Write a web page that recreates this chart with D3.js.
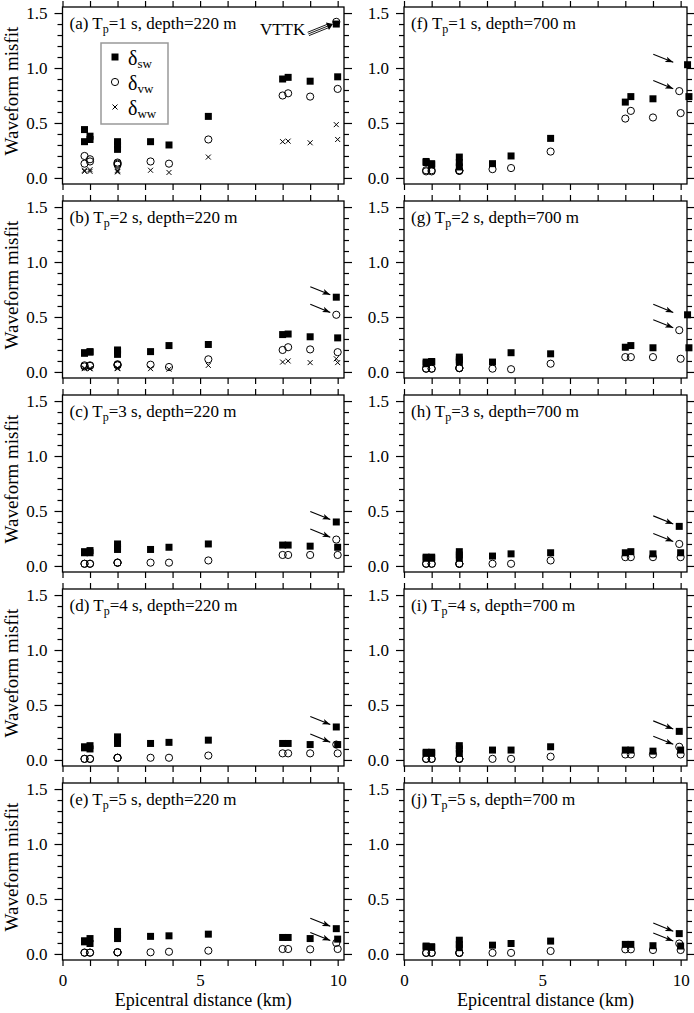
<!DOCTYPE html>
<html>
<head>
<meta charset="utf-8">
<script src="https://cdn.jsdelivr.net/npm/d3@7.9.0/dist/d3.min.js"></script>
<style>
  body { margin: 0; background: #fff; }
  svg { display: block; font-family: "Liberation Serif", "Times New Roman", serif; }
</style>
</head>
<body>
<svg id="chart" width="694" height="1013"></svg>
<script>
/* ---------- Data ---------- */
// epicentral distance of each station (km); index 13 is VTTK
const distances = [0.8, 0.8, 1.0, 1.0, 2.0, 2.0, 2.0, 3.2, 3.87, 5.3, 8.0, 8.2, 9.0, 9.95, 10.0];
const vttkIndex = 13;
// the two 10-km squares sit a little to the right in (f) and (g)
const swDistShifted = [0.8, 0.8, 1.0, 1.0, 2.0, 2.0, 2.0, 3.2, 3.87, 5.3, 8.0, 8.2, 9.0, 10.25, 10.3];

const panelLetters = ['a', 'b', 'c', 'd', 'e', 'f', 'g', 'h', 'i', 'j'];
const periods = [1, 2, 3, 4, 5, 1, 2, 3, 4, 5];
const depths = [220, 220, 220, 220, 220, 700, 700, 700, 700, 700];

// delta_sw (filled squares)
const swA = [0.44, 0.33, 0.38, 0.35, 0.33, 0.30, 0.26, 0.33, 0.30, 0.56, 0.90, 0.915, 0.88, 1.40, 0.92];
const swB = [0.175, 0.17, 0.185, 0.18, 0.20, 0.19, 0.16, 0.185, 0.24, 0.25, 0.34, 0.345, 0.32, 0.68, 0.31];
const swC = [0.13, 0.12, 0.14, 0.12, 0.20, 0.17, 0.15, 0.15, 0.17, 0.20, 0.19, 0.19, 0.18, 0.40, 0.17];
const swD = [0.12, 0.11, 0.13, 0.10, 0.21, 0.18, 0.15, 0.15, 0.16, 0.18, 0.15, 0.15, 0.14, 0.30, 0.14];
const swE = [0.12, 0.11, 0.14, 0.095, 0.205, 0.175, 0.14, 0.16, 0.165, 0.18, 0.15, 0.15, 0.14, 0.23, 0.135];
const swF = [0.15, 0.14, 0.12, 0.13, 0.19, 0.14, 0.10, 0.13, 0.20, 0.36, 0.69, 0.74, 0.72, 1.03, 0.74];
const swG = [0.09, 0.075, 0.095, 0.09, 0.135, 0.11, 0.09, 0.09, 0.175, 0.165, 0.225, 0.24, 0.22, 0.52, 0.22];
const swH = [0.08, 0.07, 0.08, 0.07, 0.13, 0.10, 0.07, 0.09, 0.11, 0.12, 0.12, 0.13, 0.11, 0.36, 0.12];
const swI = [0.07, 0.06, 0.07, 0.06, 0.13, 0.10, 0.06, 0.09, 0.09, 0.12, 0.09, 0.09, 0.08, 0.26, 0.09];
const swJ = [0.072, 0.065, 0.066, 0.06, 0.125, 0.087, 0.057, 0.08, 0.095, 0.117, 0.087, 0.087, 0.075, 0.185, 0.072];

// delta_vw (open circles)
const vwA = [0.20, 0.13, 0.17, 0.15, 0.14, 0.12, 0.13, 0.15, 0.13, 0.35, 0.75, 0.77, 0.74, 1.42, 0.81];
const vwB = [0.06, 0.05, 0.06, 0.055, 0.07, 0.06, 0.065, 0.066, 0.045, 0.115, 0.20, 0.225, 0.205, 0.52, 0.18];
const vwC = [0.02, 0.02, 0.02, 0.02, 0.03, 0.03, 0.03, 0.03, 0.03, 0.05, 0.10, 0.10, 0.10, 0.24, 0.10];
const vwD = [0.01, 0.01, 0.01, 0.01, 0.02, 0.02, 0.02, 0.02, 0.02, 0.04, 0.06, 0.06, 0.06, 0.14, 0.06];
const vwE = [0.012, 0.012, 0.012, 0.012, 0.015, 0.015, 0.015, 0.015, 0.02, 0.03, 0.045, 0.045, 0.042, 0.10, 0.045];
const vwF = [0.07, 0.06, 0.06, 0.07, 0.065, 0.07, 0.065, 0.08, 0.09, 0.24, 0.54, 0.61, 0.55, 0.79, 0.59];
const vwG = [0.03, 0.03, 0.03, 0.03, 0.035, 0.035, 0.035, 0.03, 0.025, 0.075, 0.135, 0.135, 0.135, 0.38, 0.12];
const vwH = [0.02, 0.02, 0.02, 0.02, 0.02, 0.02, 0.02, 0.02, 0.02, 0.05, 0.08, 0.08, 0.08, 0.20, 0.08];
const vwI = [0.01, 0.01, 0.01, 0.01, 0.01, 0.01, 0.01, 0.01, 0.01, 0.03, 0.05, 0.05, 0.05, 0.12, 0.05];
const vwJ = [0.01, 0.01, 0.01, 0.01, 0.01, 0.01, 0.01, 0.01, 0.01, 0.027, 0.042, 0.042, 0.036, 0.095, 0.036];

// delta_ww (crosses) - only visible in (a) and (b)
const wwA = [0.07, 0.06, 0.075, 0.06, 0.055, 0.07, 0.06, 0.07, 0.05, 0.19, 0.33, 0.335, 0.32, 0.485, 0.35];
const wwB = [0.03, 0.035, 0.03, 0.03, 0.035, 0.03, 0.035, 0.03, 0.025, 0.06, 0.09, 0.10, 0.085, 0.12, 0.085];

const swSeries = [swA, swB, swC, swD, swE, swF, swG, swH, swI, swJ];
const vwSeries = [vwA, vwB, vwC, vwD, vwE, vwF, vwG, vwH, vwI, vwJ];
const wwSeries = [wwA, wwB, null, null, null, null, null, null, null, null];

const xTickValues = d3.range(0, 11);
const yMajorTicks = [0, 0.5, 1.0, 1.5];
const yMinorTicks = d3.range(0, 16).map(d => d / 10).filter(d => !yMajorTicks.includes(d));

/* ---------- Layout ---------- */
const svg = d3.select('#chart');
const colX = [[62.5, 344], [404, 687]];
const firstTop = 7, pitch = 194, panelH = 177;
const xDomain = [0, 10.23];
const yDomain = [-0.055, 1.555];

const defs = svg.append('defs');
defs.append('marker')
  .attr('id', 'head')
  .attr('markerUnits', 'userSpaceOnUse')
  .attr('markerWidth', 9).attr('markerHeight', 7)
  .attr('refX', 8).attr('refY', 3.5)
  .attr('orient', 'auto')
  .append('path')
  .attr('d', 'M0,0.6 L8,3.5 L0,6.4 L2,3.5 Z')
  .attr('fill', '#000');

function styleAxis(g) {
  g.attr('font-family', null).attr('font-size', null);
  g.select('.domain').remove();
  g.selectAll('line').attr('stroke-width', 1.2);
  g.selectAll('text').style('font-size', '17px').attr('fill', '#000');
}

function squarePath(size) {
  const h = size / 2;
  return `M${-h},${-h}h${size}v${size}h${-size}z`;
}
function crossPath(size) {
  const h = size / 2;
  return `M${-h},${-h}L${h},${h}M${-h},${h}L${h},${-h}`;
}

/* ---------- Panels ---------- */
panelLetters.forEach((letter, i) => {
  const col = i < 5 ? 0 : 1;
  const row = i % 5;
  const top = firstTop + row * pitch;
  const bottom = top + panelH;
  const [x0, x1] = colX[col];

  const x = d3.scaleLinear().domain(xDomain).range([x0, x1]);
  const y = d3.scaleLinear().domain(yDomain).range([bottom, top]);

  const g = svg.append('g').attr('class', `panel-${letter}`);

  // axes (all ticks outward)
  g.append('g').attr('transform', `translate(${x0},0)`)
    .call(d3.axisLeft(y).tickValues(yMajorTicks).tickSizeInner(8).tickSizeOuter(0)
      .tickPadding(7).tickFormat(d3.format('.1f')))
    .call(styleAxis);
  g.append('g').attr('transform', `translate(${x0},0)`)
    .call(d3.axisLeft(y).tickValues(yMinorTicks).tickSize(5).tickFormat(''))
    .call(styleAxis);
  g.append('g').attr('transform', `translate(${x1},0)`)
    .call(d3.axisRight(y).tickValues(yMajorTicks).tickSize(8).tickFormat(''))
    .call(styleAxis);
  g.append('g').attr('transform', `translate(${x1},0)`)
    .call(d3.axisRight(y).tickValues(yMinorTicks).tickSize(5).tickFormat(''))
    .call(styleAxis);
  g.append('g').attr('transform', `translate(0,${top})`)
    .call(d3.axisTop(x).tickValues(xTickValues).tickSize(6).tickFormat(''))
    .call(styleAxis);
  g.append('g').attr('transform', `translate(0,${bottom})`)
    .call(d3.axisBottom(x).tickValues(xTickValues).tickSize(6).tickPadding(8)
      .tickFormat(d => (row === 4 && d % 5 === 0) ? d3.format('d')(d) : ''))
    .call(styleAxis);

  // frame
  g.append('rect')
    .attr('x', x0).attr('y', top)
    .attr('width', x1 - x0).attr('height', panelH)
    .attr('fill', 'none').attr('stroke', '#000').attr('stroke-width', 1.3);

  // panel label
  const label = g.append('text')
    .attr('x', x0 + 7).attr('y', top + 21.5)
    .style('font-size', '17px');
  label.append('tspan').text(`(${letter}) T`);
  label.append('tspan').attr('dy', 4).style('font-size', '12px').text('p');
  label.append('tspan').attr('dy', -4).text(`=${periods[i]} s, depth=${depths[i]} m`);

  // y title (left column)
  if (col === 0) {
    g.append('text')
      .attr('transform', `translate(18,${top + 84}) rotate(-90)`)
      .attr('text-anchor', 'middle')
      .style('font-size', '19px')
      .text('Waveform misfit');
  }
  // x title (bottom row)
  if (row === 4) {
    g.append('text')
      .attr('x', (x0 + x1) / 2).attr('y', 1006)
      .attr('text-anchor', 'middle')
      .style('font-size', '18px')
      .text('Epicentral distance (km)');
  }

  // data
  const ww = wwSeries[i];
  if (ww) {
    g.append('g').selectAll('path')
      .data(ww.map((v, k) => ({ d: distances[k], v })))
      .join('path')
      .attr('transform', p => `translate(${x(p.d)},${y(p.v)})`)
      .attr('d', crossPath(5))
      .attr('stroke', '#000').attr('stroke-width', 1).attr('fill', 'none');
  }
  g.append('g').selectAll('circle')
    .data(vwSeries[i].map((v, k) => ({ d: distances[k], v })))
    .join('circle')
    .attr('cx', p => x(p.d)).attr('cy', p => y(p.v)).attr('r', 3.6)
    .attr('fill', 'none').attr('stroke', '#000').attr('stroke-width', 1);
  const swX = (letter === 'f' || letter === 'g') ? swDistShifted : distances;
  g.append('g').selectAll('path')
    .data(swSeries[i].map((v, k) => ({ d: swX[k], v })))
    .join('path')
    .attr('transform', p => `translate(${x(p.d)},${y(p.v)})`)
    .attr('d', squarePath(7))
    .attr('fill', '#000');

  // arrows to VTTK
  const mx = x(distances[vttkIndex]);
  if (letter === 'a') {
    const my = y(1.41);
    g.append('text')
      .attr('x', mx - 31).attr('y', my + 12)
      .attr('text-anchor', 'end')
      .style('font-size', '17px')
      .text('VTTK');
    const tx = mx - 28, ty = my + 11, hx = mx - 7, hy = my + 2.5;
    const len = Math.hypot(hx - tx, hy - ty);
    const nx = -(hy - ty) / len, ny = (hx - tx) / len;
    [-1.8, 0, 1.8].forEach(o => {
      g.append('line')
        .attr('x1', tx + nx * o).attr('y1', ty + ny * o)
        .attr('x2', hx + nx * o).attr('y2', hy + ny * o)
        .attr('stroke', '#000').attr('stroke-width', 0.9);
    });
    const ux = (hx - tx) / len, uy = (hy - ty) / len;
    const tipX = hx + ux * 4, tipY = hy + uy * 4;
    g.append('path')
      .attr('d', `M${tipX},${tipY}L${hx - ux * 2 + nx * 4},${hy - uy * 2 + ny * 4}L${hx - ux * 2 - nx * 4},${hy - uy * 2 - ny * 4}Z`)
      .attr('fill', '#000');
  } else {
    [swSeries[i][vttkIndex], vwSeries[i][vttkIndex]].forEach(v => {
      const my = y(v);
      g.append('line')
        .attr('x1', mx - 26).attr('y1', my - 10.5)
        .attr('x2', mx - 6).attr('y2', my - 2.4)
        .attr('stroke', '#000').attr('stroke-width', 1.1)
        .attr('marker-end', 'url(#head)');
    });
  }

  // legend in (a)
  if (letter === 'a') {
    const lg = g.append('g');
    lg.append('rect')
      .attr('x', 101).attr('y', 43).attr('width', 67).attr('height', 81)
      .attr('fill', '#fff').attr('stroke', '#999').attr('stroke-width', 1.5);
    const entries = [
      { key: 'sw', y: 57 },
      { key: 'vw', y: 82 },
      { key: 'ww', y: 107 }
    ];
    entries.forEach((e, k) => {
      if (k === 0) {
        lg.append('path').attr('transform', `translate(115,${e.y})`)
          .attr('d', squarePath(7)).attr('fill', '#000');
      } else if (k === 1) {
        lg.append('circle').attr('cx', 115).attr('cy', e.y).attr('r', 3.6)
          .attr('fill', 'none').attr('stroke', '#000').attr('stroke-width', 1);
      } else {
        lg.append('path').attr('transform', `translate(115,${e.y})`)
          .attr('d', crossPath(5)).attr('stroke', '#000').attr('stroke-width', 1);
      }
      const t = lg.append('text').attr('x', 128).attr('y', e.y + 7.5).style('font-size', '20px');
      t.append('tspan').text('δ');
      t.append('tspan').attr('dy', 3).style('font-size', '13px').text(e.key);
    });
  }
});
</script>
</body>
</html>
